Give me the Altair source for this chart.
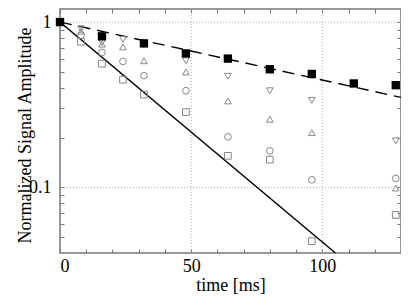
import altair as alt
import pandas as pd

# ---- data ----
time_filled = [0, 16, 32, 48, 64, 80, 96, 112, 128]
amp_filled = [1.0, 0.82, 0.743, 0.646, 0.601, 0.518, 0.485, 0.425, 0.415]

time_open = [8, 16, 24, 32, 48, 64, 80, 96, 128]
amp_down = [0.91, 0.75, 0.786, 0.73, 0.584, 0.47, 0.384, 0.336, 0.191]
amp_up = [0.88, 0.735, 0.707, 0.583, 0.498, 0.333, 0.258, 0.214, 0.099]
amp_circle = [0.83, 0.655, 0.578, 0.474, 0.384, 0.202, 0.166, 0.111, 0.113]
amp_square = [0.76, 0.56, 0.448, 0.364, 0.285, 0.155, 0.147, 0.0472, 0.068]

dashed_t = [0, 130]
dashed_a = [1.0, 0.35]
solid_t = [0, 105]
solid_a = [1.0, 0.04]

x_label_values = [0, 50, 100]
y_label_values = [0.1, 1]
x_grid = [50, 100]
y_grid = [0.1, 1]
x_minor = list(range(0, 131, 10))
y_minor = [0.05, 0.06, 0.07, 0.08, 0.09, 0.1, 0.2, 0.3, 0.4, 0.5, 0.6, 0.7, 0.8, 0.9, 1.0]

W, H = 341, 244
FONT = "Liberation Serif"

xs = alt.Scale(domain=[0, 130], nice=False, zero=False)
ys = alt.Scale(type="log", domain=[0.04, 1.2], nice=False)

filled_df = pd.DataFrame({"t": time_filled, "a": amp_filled})
open_rows = []
for name, vals in [("down", amp_down), ("up", amp_up), ("circle", amp_circle), ("square", amp_square)]:
    for t, a in zip(time_open, vals):
        open_rows.append({"t": t, "a": a, "s": name})
open_df = pd.DataFrame(open_rows)
dashed_df = pd.DataFrame({"t": dashed_t, "a": dashed_a})
solid_df = pd.DataFrame({"t": solid_t, "a": solid_a})
xgrid_df = pd.DataFrame({"g": x_grid})
ygrid_df = pd.DataFrame({"g": y_grid})
anchor_df = pd.DataFrame({"t": [0], "a": [1.0]})

grid_x = alt.Chart(xgrid_df).mark_rule(color="#aaaaaa", strokeDash=[1, 2], strokeWidth=1).encode(
    x=alt.X("g:Q", scale=xs, axis=None)
)
grid_y = alt.Chart(ygrid_df).mark_rule(color="#aaaaaa", strokeDash=[1, 2], strokeWidth=1).encode(
    y=alt.Y("g:Q", scale=ys, axis=None)
)

main_x_axis = alt.Axis(values=x_label_values, ticks=False, tickSize=0, domain=False, grid=False,
                       labelFontSize=18, labelPadding=18, labelBaseline="alphabetic",
                       title="time [ms]", titleFontSize=18, titleBaseline="alphabetic",
                       titleY=37, titleX=W / 2, titleAlign="center")
main_y_axis = alt.Axis(values=y_label_values, ticks=False, tickSize=0, domain=False, grid=False,
                       format="~g", labelFontSize=18, labelPadding=9,
                       title="Normalized Signal Amplitude", titleFontSize=18,
                       titleBaseline="alphabetic", titleAngle=270, titleAlign="center",
                       titleX=-30, titleY=H / 2 + 4)

solid = alt.Chart(solid_df).mark_line(color="black", strokeWidth=1.4, clip=True).encode(
    x=alt.X("t:Q", scale=xs, axis=main_x_axis),
    y=alt.Y("a:Q", scale=ys, axis=main_y_axis),
)
dashed = alt.Chart(dashed_df).mark_line(color="black", strokeWidth=1.4, strokeDash=[12, 7], clip=True).encode(
    x=alt.X("t:Q", scale=xs, axis=None),
    y=alt.Y("a:Q", scale=ys, axis=None),
)
open_pts = alt.Chart(open_df).mark_point(filled=False, color="#888888", strokeWidth=1, size=45, opacity=1).encode(
    x=alt.X("t:Q", scale=xs, axis=None),
    y=alt.Y("a:Q", scale=ys, axis=None),
    shape=alt.Shape("s:N", scale=alt.Scale(domain=["down", "up", "circle", "square"],
                                           range=["triangle-down", "triangle-up", "circle", "square"]),
                    legend=None),
)
filled_pts = alt.Chart(filled_df).mark_point(filled=True, shape="square", color="black", size=70, opacity=1).encode(
    x=alt.X("t:Q", scale=xs, axis=None),
    y=alt.Y("a:Q", scale=ys, axis=None),
)

tick_common = dict(labels=False, domain=False, grid=False, tickSize=4, tickColor="#777777", title=None)
ticks_a = alt.Chart(anchor_df).mark_point(opacity=0).encode(
    x=alt.X("t:Q", scale=xs, axis=alt.Axis(orient="top", offset=-H, values=x_minor, **tick_common)),
    y=alt.Y("a:Q", scale=ys, axis=alt.Axis(orient="right", offset=-W, values=y_minor, **tick_common)),
)
ticks_b = alt.Chart(anchor_df).mark_point(opacity=0).encode(
    x=alt.X("t:Q", scale=xs, axis=alt.Axis(orient="bottom", offset=-H, values=x_minor, **tick_common)),
    y=alt.Y("a:Q", scale=ys, axis=alt.Axis(orient="left", offset=-W, values=y_minor, **tick_common)),
)

chart = alt.layer(
    grid_x, grid_y, solid, dashed, open_pts, filled_pts, ticks_a, ticks_b
).resolve_axis(x="independent", y="independent").properties(
    width=W, height=H,
    autosize=alt.AutoSizeParams(type="none"),
    padding={"left": 52, "top": 1, "right": 0, "bottom": 43},
).configure_view(
    stroke="#777777", strokeWidth=1.5
).configure_axis(
    labelFont=FONT, titleFont=FONT, labelColor="black", titleColor="black",
    titleFontWeight="normal",
)

chart.save("out.html", embed_options={"renderer": "svg", "actions": False})
